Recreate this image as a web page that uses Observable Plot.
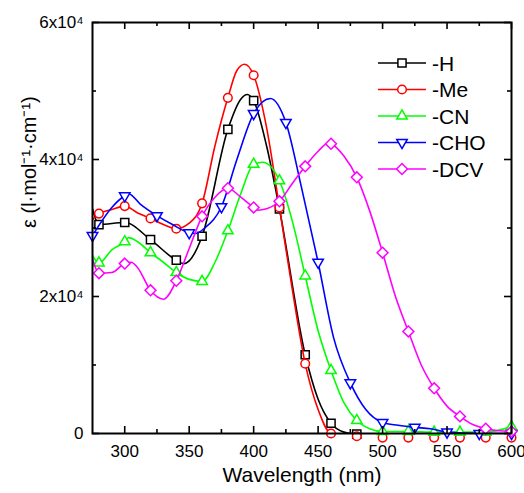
<!DOCTYPE html>
<html><head><meta charset="utf-8">
<script src="https://cdn.jsdelivr.net/npm/d3@7"></script>
<script src="https://cdn.jsdelivr.net/npm/@observablehq/plot@0.6"></script>
<style>
body{margin:0;background:#fff;}
#wrap{position:relative;width:524px;height:493px;font-family:"Liberation Sans",Arial,sans-serif;}
#wrap svg{position:absolute;left:0;top:0;}
</style></head><body><div id="wrap"></div>
<script>
// ---- data (epsilon in units of 10^4 l·mol-1·cm-1) ----
const seriesNames  = ["-H", "-Me", "-CN", "-CHO", "-DCV"];
const seriesColors = ["#000000", "#ff0000", "#00ff00", "#0000ff", "#ff00ff"];

const wlH  = [275, 280, 300, 320, 340, 346, 350, 360, 380, 390, 395, 400, 410, 420, 440, 450, 460, 470, 480];
const epsH = [3.28, 3.05, 3.08, 2.83, 2.53, 2.48, 2.52, 2.88, 4.44, 4.88, 4.95, 4.86, 4.2, 3.28, 1.15, 0.5, 0.15, 0.02, -0.01];

const wlMe  = [275, 280, 290, 300, 310, 320, 330, 340, 350, 360, 370, 380, 387, 393, 400, 410, 420, 430, 440, 450, 460, 480, 500, 520, 540, 560, 580, 600];
const epsMe = [3.12, 3.21, 3.27, 3.32, 3.22, 3.14, 3.05, 2.99, 3.07, 3.36, 4.2, 4.9, 5.3, 5.39, 5.23, 4.47, 3.3, 2.1, 1.02, 0.35, 0.0, -0.04, -0.06, -0.06, -0.06, -0.06, -0.06, -0.06];

const wlCN  = [275, 280, 290, 300, 303, 310, 320, 330, 340, 350, 360, 370, 380, 390, 400, 407, 420, 430, 440, 450, 460, 470, 480, 490, 500, 520, 540, 560, 580, 600];
const epsCN = [2.6, 2.49, 2.68, 2.8, 2.86, 2.8, 2.64, 2.5, 2.35, 2.25, 2.22, 2.5, 2.96, 3.5, 3.93, 3.96, 3.69, 3.1, 2.3, 1.5, 0.92, 0.45, 0.19, 0.07, 0.03, 0.03, 0.02, 0.02, 0.02, 0.1];

const wlCHO  = [275, 290, 300, 303, 312, 325, 337, 350, 355, 362, 375, 387, 400, 413, 425, 437, 450, 462, 475, 487, 500, 512, 525, 537, 550, 575, 600];
const epsCHO = [2.89, 3.3, 3.47, 3.5, 3.35, 3.18, 3.05, 2.93, 2.92, 3.0, 3.31, 4.0, 4.67, 4.89, 4.54, 3.6, 2.5, 1.4, 0.74, 0.35, 0.16, 0.12, 0.09, 0.07, 0.02, 0.0, 0.0];

const wlDCV  = [275, 280, 290, 300, 305, 310, 320, 330, 340, 350, 360, 370, 380, 390, 400, 403, 410, 420, 430, 440, 450, 458, 460, 470, 480, 490, 500, 510, 520, 530, 540, 550, 560, 570, 580, 590, 600];
const epsDCV = [2.55, 2.34, 2.35, 2.48, 2.5, 2.42, 2.09, 1.96, 2.23, 2.7, 3.17, 3.45, 3.58, 3.45, 3.3, 3.26, 3.28, 3.39, 3.65, 3.9, 4.12, 4.24, 4.23, 4.05, 3.74, 3.25, 2.64, 2.0, 1.49, 1.0, 0.66, 0.4, 0.25, 0.13, 0.07, 0.04, 0.03];

// marker wavelengths
const markH   = [280, 300, 320, 340, 360, 380, 400, 420, 440, 460, 480];
const markMe  = [280, 300, 320, 340, 360, 380, 400, 420, 440, 460, 480, 500, 520, 540, 560, 580, 600];
const markCN  = [280, 300, 320, 340, 360, 380, 400, 420, 440, 460, 480, 500, 520, 540, 560, 580, 600];
const markCHO = [275, 300, 325, 350, 375, 400, 425, 450, 475, 500, 525, 550, 575, 600];
const markDCV = [280, 300, 320, 340, 360, 380, 400, 420, 440, 460, 480, 500, 520, 540, 560, 580, 600];

// axis ticks
const xMajor = [300, 350, 400, 450, 500, 550, 600];
const xMinor = [325, 375, 425, 475, 525, 575];
const yMajor = [0, 20000, 40000, 60000];
const yMinor = [10000, 30000, 50000];

// ---- build ----
const triangleDown = {
  draw(ctx, size) {
    const y = -Math.sqrt(size / (Math.sqrt(3) * 3));
    ctx.moveTo(0, -y * 2);
    ctx.lineTo(-Math.sqrt(3) * y, y);
    ctx.lineTo(Math.sqrt(3) * y, y);
    ctx.closePath();
  }
};
const symbols = [d3.symbolSquare, d3.symbolCircle, d3.symbolTriangle, triangleDown, d3.symbolDiamond2];
const radii = [4.6, 4.3, 3.9, 3.9, 4.9];

const wls = [wlH, wlMe, wlCN, wlCHO, wlDCV];
const epss = [epsH, epsMe, epsCN, epsCHO, epsDCV];
const marks = [markH, markMe, markCN, markCHO, markDCV];

const series = seriesNames.map((name, i) => {
  const pts = wls[i].map((w, j) => ({w, e: epss[i][j] * 1e4}));
  return {name, color: seriesColors[i], symbol: symbols[i], r: radii[i],
          pts, markers: pts.filter(p => marks[i].includes(p.w))};
});

const W = 524, H = 493, mL = 92, mR = 13, mT = 22, mB = 60;
const FW = W - mL - mR, FH = H - mT - mB;

const plotMarks = [];
for (const s of series) {
  plotMarks.push(Plot.line(s.pts, {x: "w", y: "e", stroke: s.color, strokeWidth: 1.6, curve: "monotone-x", clip: true}));
  plotMarks.push(Plot.dot(s.markers, {x: "w", y: "e", stroke: s.color, fill: "white", strokeWidth: 1.5, r: s.r, symbol: s.symbol}));
}

const chart = Plot.plot({
  width: W, height: H,
  marginLeft: mL, marginRight: mR, marginTop: mT, marginBottom: mB,
  style: {fontFamily: "'Liberation Sans', Arial, sans-serif", color: "black", background: "white"},
  x: {domain: [275, 600]},
  y: {domain: [0, 60000]},
  marks: [
    ...plotMarks,
    Plot.frame({stroke: "black", strokeWidth: 2}),
    Plot.tickX(xMajor, {insetTop: FH - 7, strokeWidth: 1.6}),
    Plot.tickX(xMinor, {insetTop: FH - 4, strokeWidth: 1.6}),
    Plot.tickX(xMajor, {insetBottom: FH - 7, strokeWidth: 1.6}),
    Plot.tickX(xMinor, {insetBottom: FH - 4, strokeWidth: 1.6}),
    Plot.tickY(yMajor, {insetRight: FW - 7, strokeWidth: 1.6}),
    Plot.tickY(yMinor, {insetRight: FW - 4, strokeWidth: 1.6}),
    Plot.tickY(yMajor, {insetLeft: FW - 7, strokeWidth: 1.6}),
    Plot.tickY(yMinor, {insetLeft: FW - 4, strokeWidth: 1.6}),
    Plot.axisX({ticks: xMajor, tickSize: 0, tickPadding: 11, fontSize: 17, label: null}),
    Plot.axisY({ticks: yMajor, tickSize: 0, tickPadding: 9, fontSize: 17, label: null,
                tickFormat: d => d === 0 ? "0" : `${d / 1e4}x10⁴`}),
    Plot.text(["Wavelength (nm)"], {frameAnchor: "bottom", dy: 48, fontSize: 21, text: d => d}),
    Plot.text(["ε (l·mol⁻¹·cm⁻¹)"], {frameAnchor: "left", dx: -63, rotate: -90, fontSize: 20, text: d => d})
  ]
});
document.getElementById("wrap").appendChild(chart);

// ---- legend overlay ----
const leg = d3.select("#wrap").append("svg").attr("width", W).attr("height", H)
  .style("pointer-events", "none");
const legX0 = 378, legX1 = 426, legY0 = 63, legDy = 26.5;
series.forEach((s, i) => {
  const y = legY0 + i * legDy;
  leg.append("line").attr("x1", legX0).attr("x2", legX1).attr("y1", y).attr("y2", y)
    .attr("stroke", s.color).attr("stroke-width", 1.6);
  leg.append("path").attr("d", d3.symbol(s.symbol, Math.PI * s.r * s.r)())
    .attr("transform", `translate(${(legX0 + legX1) / 2},${y})`)
    .attr("fill", "white").attr("stroke", s.color).attr("stroke-width", 1.5);
  leg.append("text").attr("x", 432).attr("y", y).attr("dy", "0.36em")
    .attr("font-size", 21).attr("font-family", "'Liberation Sans', Arial, sans-serif")
    .text(s.name);
});
</script></body></html>
